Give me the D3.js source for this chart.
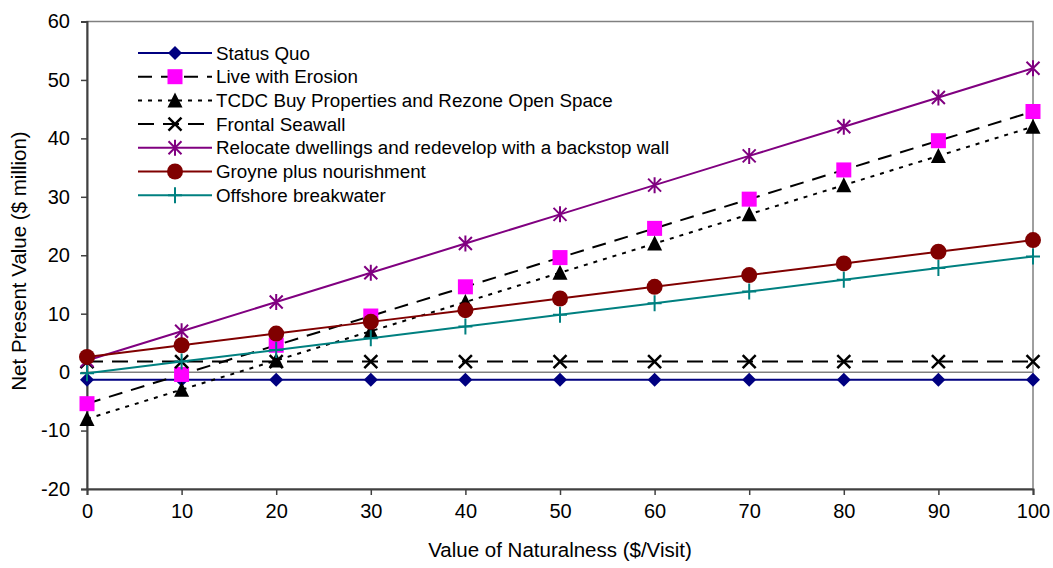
<!DOCTYPE html>
<html><head><meta charset="utf-8">
<script src="https://cdn.jsdelivr.net/npm/d3@7"></script>
<style>body{margin:0;background:#fff}text{font-family:"Liberation Sans",Arial,sans-serif}</style>
</head><body>
<svg id="c" width="1053" height="568"></svg>
<script>
const xValues = [0,10,20,30,40,50,60,70,80,90,100];
const xTicks = [0,10,20,30,40,50,60,70,80,90,100];
const yTicks = [-20,-10,0,10,20,30,40,50,60];
const seriesNames = ["Status Quo","Live with Erosion","TCDC Buy Properties and Rezone Open Space","Frontal Seawall","Relocate dwellings and redevelop with a backstop wall","Groyne plus nourishment","Offshore breakwater"];
const statusQuo = [-1.3,-1.3,-1.3,-1.3,-1.3,-1.3,-1.3,-1.3,-1.3,-1.3,-1.3];
const liveWithErosion = [-5.4,-0.4,4.6,9.6,14.6,19.6,24.6,29.6,34.6,39.6,44.6];
const tcdcBuy = [-8,-3,2,7,12,17,22,27,32,37,42];
const frontalSeawall = [1.8,1.8,1.8,1.8,1.8,1.8,1.8,1.8,1.8,1.8,1.8];
const relocate = [2,7,12,17,22,27,32,37,42,47,52];
const groyne = [2.6,4.6,6.6,8.6,10.6,12.6,14.6,16.6,18.6,20.6,22.6];
const offshore = [-0.2,1.8,3.8,5.8,7.8,9.8,11.8,13.8,15.8,17.8,19.8];

const seriesData = [statusQuo, liveWithErosion, tcdcBuy, frontalSeawall, relocate, groyne, offshore];
const styles = [
  {color:"#000080", dash:null, marker:"diamond", mcolor:"#000080"},
  {color:"#000000", dash:"14,9", marker:"square", mcolor:"#FF00FF"},
  {color:"#000000", dash:"4,6", marker:"triangle", mcolor:"#000000"},
  {color:"#000000", dash:"16,9", marker:"x", mcolor:"#000000"},
  {color:"#800080", dash:null, marker:"asterisk", mcolor:"#800080"},
  {color:"#800000", dash:null, marker:"circle", mcolor:"#800000"},
  {color:"#008080", dash:null, marker:"plus", mcolor:"#008080"}
];

const svg = d3.select("#c");
const L=87, R=1033, T=21.5, B=489;
const x = d3.scaleLinear().domain([0,100]).range([L,R]);
const y = d3.scaleLinear().domain([-20,60]).range([B,T]);

svg.append("rect").attr("x",L).attr("y",T).attr("width",R-L).attr("height",B-T)
  .attr("fill","none").attr("stroke","#808080").attr("stroke-width",1.5);
svg.append("line").attr("x1",L).attr("x2",R).attr("y1",y(0)).attr("y2",y(0))
  .attr("stroke","#808080").attr("stroke-width",1.5);

const fmt = d => String(d);
const yAxis = svg.append("g").attr("transform",`translate(${L},0)`)
  .call(d3.axisLeft(y).tickValues(yTicks).tickSize(6).tickPadding(11).tickFormat(fmt));
const xAxis = svg.append("g").attr("transform",`translate(0,${B})`)
  .call(d3.axisBottom(x).tickValues(xTicks).tickSize(6).tickPadding(9).tickFormat(fmt));
[yAxis,xAxis].forEach(a=>{
  a.select(".domain").attr("stroke","#404040").attr("stroke-width",2);
  a.selectAll(".tick line").attr("stroke","#404040").attr("stroke-width",1.5);
  a.selectAll(".tick text").attr("font-size",20).attr("fill","#000").style("font-family","Liberation Sans, Arial, sans-serif");
});

svg.append("text").attr("x",560).attr("y",557).attr("text-anchor","middle")
  .attr("font-size",20.5).text("Value of Naturalness ($/Visit)");
svg.append("text").attr("transform",`translate(26,261) rotate(-90)`).attr("text-anchor","middle")
  .attr("font-size",20.5).text("Net Present Value ($ million)");

function drawMarker(g, type, cx, cy, col){
  if(type==="diamond"){
    g.append("path").attr("d",`M${cx},${cy-7}L${cx+7},${cy}L${cx},${cy+7}L${cx-7},${cy}Z`).attr("fill",col);
  } else if(type==="square"){
    g.append("rect").attr("x",cx-7.5).attr("y",cy-7.5).attr("width",15).attr("height",15).attr("fill",col);
  } else if(type==="triangle"){
    g.append("path").attr("d",`M${cx},${cy-8}L${cx+7.5},${cy+7}L${cx-7.5},${cy+7}Z`).attr("fill",col);
  } else if(type==="x"){
    g.append("path").attr("d",`M${cx-6.5},${cy-6.5}L${cx+6.5},${cy+6.5}M${cx-6.5},${cy+6.5}L${cx+6.5},${cy-6.5}`).attr("stroke",col).attr("stroke-width",2.5);
  } else if(type==="asterisk"){
    g.append("path").attr("d",`M${cx-6.5},${cy-6.5}L${cx+6.5},${cy+6.5}M${cx-6.5},${cy+6.5}L${cx+6.5},${cy-6.5}M${cx},${cy-8}L${cx},${cy+8}`).attr("stroke",col).attr("stroke-width",2);
  } else if(type==="circle"){
    g.append("circle").attr("cx",cx).attr("cy",cy).attr("r",8).attr("fill",col);
  } else if(type==="plus"){
    g.append("path").attr("d",`M${cx-7},${cy}L${cx+7},${cy}M${cx},${cy-8}L${cx},${cy+8}`).attr("stroke",col).attr("stroke-width",2);
  }
}

const line = d3.line().x((d,i)=>x(xValues[i])).y(d=>y(d));
seriesData.forEach((s,k)=>{
  const st = styles[k];
  const g = svg.append("g");
  g.append("path").datum(s).attr("d",line).attr("fill","none").attr("stroke",st.color)
    .attr("stroke-width",2).attr("stroke-dasharray",st.dash);
  s.forEach((v,i)=>drawMarker(g, st.marker, x(xValues[i]), y(v), st.mcolor));
});

const lg = svg.append("g");
seriesNames.forEach((name,k)=>{
  const st = styles[k];
  const yy = 53 + k*23.7;
  lg.append("line").attr("x1",138).attr("x2",212).attr("y1",yy).attr("y2",yy)
    .attr("stroke",st.color).attr("stroke-width",2).attr("stroke-dasharray",st.dash);
  drawMarker(lg, st.marker, 175, yy, st.mcolor);
  lg.append("text").attr("x",216).attr("y",yy+6.5).attr("font-size",18.8).text(name);
});
</script>
</body></html>
